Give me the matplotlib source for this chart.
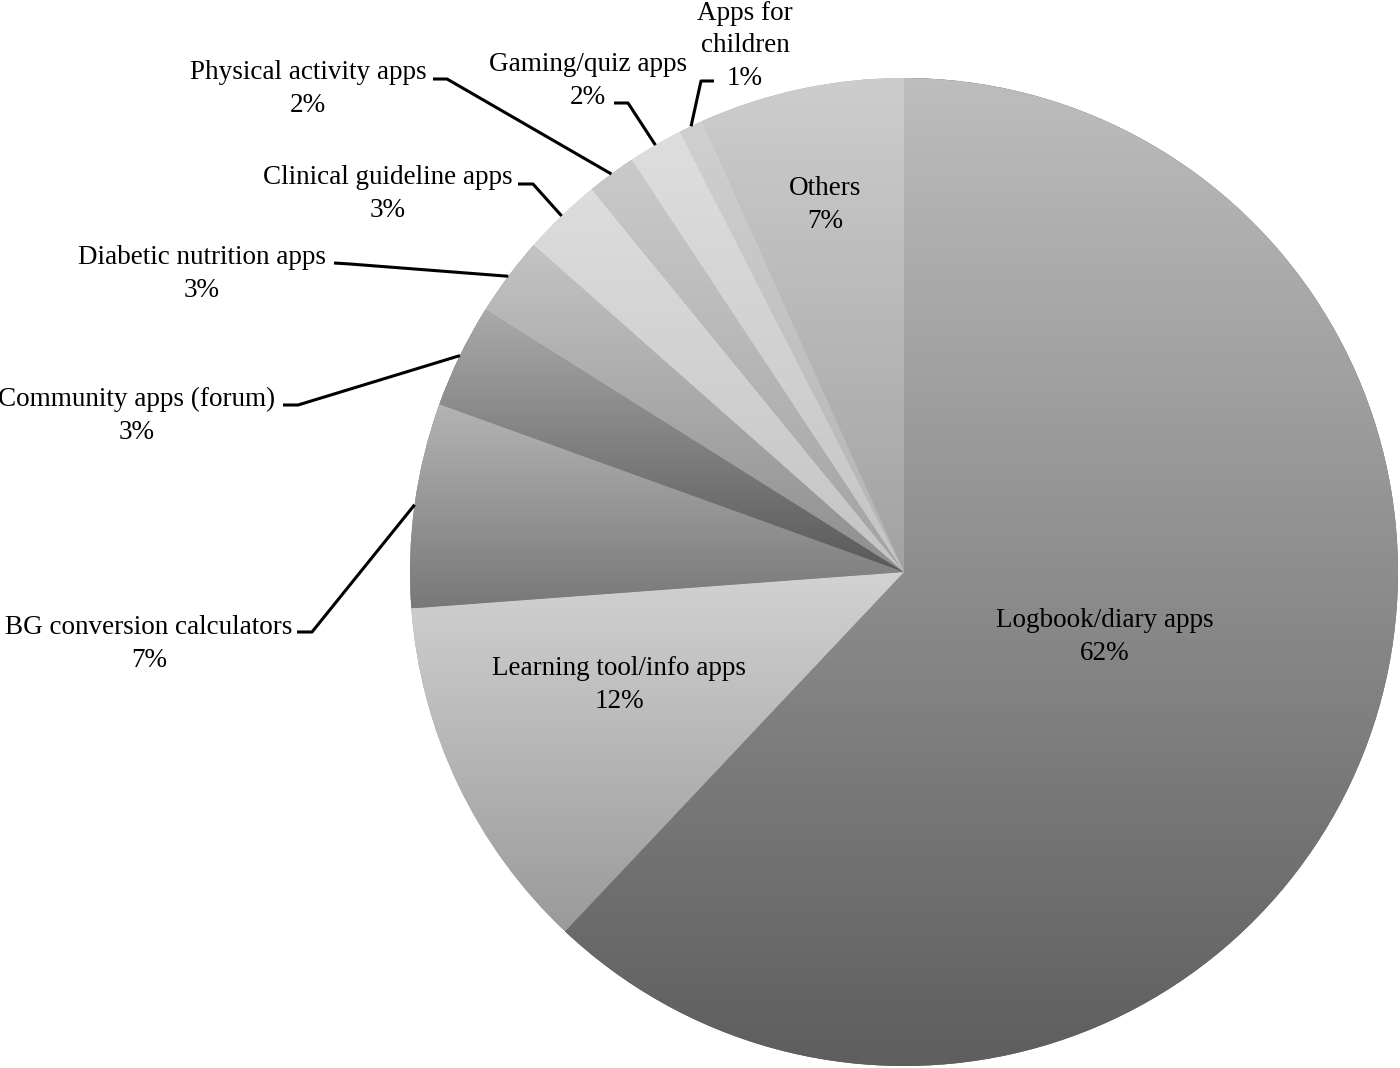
import numpy as np
import matplotlib
matplotlib.use("Agg")
import matplotlib.pyplot as plt
from matplotlib.colors import LinearSegmentedColormap

# ---- data ----
categories = ["Logbook/diary apps", "Learning tool/info apps", "BG conversion calculators",
              "Community apps (forum)", "Diabetic nutrition apps", "Clinical guideline apps",
              "Physical activity apps", "Gaming/quiz apps", "Apps for\nchildren", "Others"]
shares = [62.1, 11.8, 6.7, 3.4, 2.6, 2.6, 1.6, 1.8, 0.8, 6.7]
pct_labels = ["62%", "12%", "7%", "3%", "3%", "3%", "2%", "2%", "1%", "7%"]

# ---- style ----
grad_top = ["#bdbdbd", "#d2d2d2", "#b4b4b4", "#aaaaaa", "#c3c3c3", "#dddddd",
            "#cacaca", "#dedede", "#d0d0d0", "#cdcdcd"]
grad_bot = ["#5e5e5e", "#9a9a9a", "#787878", "#595959", "#8e8e8e", "#c4c4c4",
            "#a2a2a2", "#c4c4c4", "#b3b3b3", "#a2a2a2"]
# label placement (figure pixel coords, y from top): text centre; leader start and elbow
label_xy = [(1105, 637), (619, 685), (149, 644), (137, 416), (202, 274), (388, 194),
            (308, 89), (588, 81), (745, 46), (825, 205)]
leader_pts = [None, None, [(297, 632), (312, 632)], [(283, 405), (298, 405)],
              [(334, 263), (350, 264)], [(518, 184), (533, 184)],
              [(433, 79), (447, 79)], [(614, 103), (628, 103)],
              [(714, 81), (701, 81)], None]

W, H = 1400, 1068
fig = plt.figure(figsize=(W / 100, H / 100), dpi=100)
ax = fig.add_axes([0, 0, 1, 1])
cx, cy, R = 904, H - 572, 494

wedges, _ = ax.pie(shares, startangle=90, counterclock=False, center=(cx, cy), radius=R,
                   colors=grad_bot, wedgeprops=dict(linewidth=0))
ax.set_xlim(0, W)
ax.set_ylim(0, H)
ax.set_aspect("equal")
ax.axis("off")

for w, ct, cb in zip(wedges, grad_top, grad_bot):
    bb = w.get_path().get_extents()
    cmap = LinearSegmentedColormap.from_list("g", [cb, ct])
    grad = np.linspace(0, 1, 256).reshape(-1, 1)
    im = ax.imshow(grad, cmap=cmap, origin="lower", aspect="auto",
                   extent=[bb.x0, bb.x1, bb.y0, bb.y1], zorder=2, interpolation="bilinear")
    im.set_clip_path(w)

font = dict(family=["Liberation Serif", "DejaVu Serif"], fontsize=19.5, color="#000000")
for i, (w, name, p) in enumerate(zip(wedges, categories, pct_labels)):
    tx, ty = label_xy[i]
    ax.text(tx, H - ty, f"{name}\n{p}", ha="center", va="center",
            linespacing=1.39, zorder=5, **font)
    if leader_pts[i] is not None:
        mid = np.deg2rad((w.theta1 + w.theta2) / 2)
        ex, ey = cx + R * np.cos(mid), cy + R * np.sin(mid)
        xs = [p_[0] for p_ in leader_pts[i]] + [ex]
        ys = [H - p_[1] for p_ in leader_pts[i]] + [ey]
        ax.plot(xs, ys, color="black", lw=2.2, zorder=6, solid_capstyle="butt")

fig.savefig("out.png", dpi=100)
